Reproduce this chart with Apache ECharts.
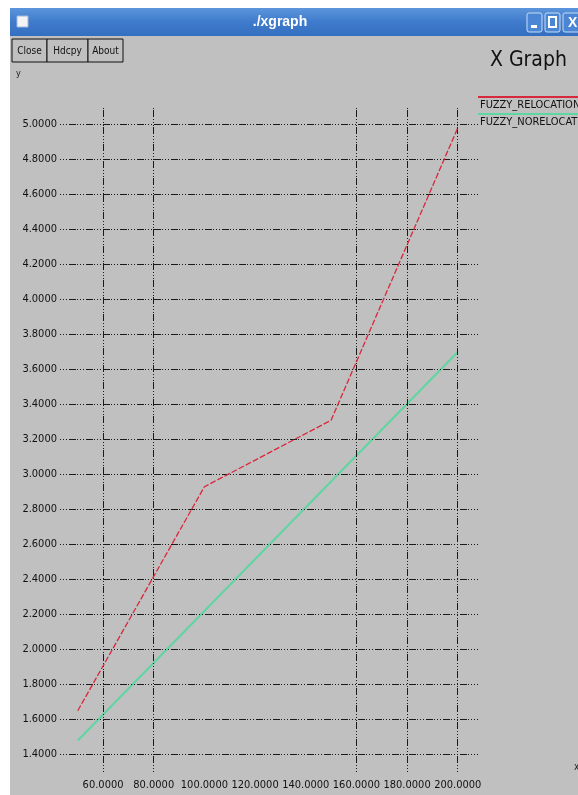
<!DOCTYPE html>
<html><head><meta charset="utf-8">
<script src="https://cdn.jsdelivr.net/npm/echarts@6/dist/echarts.min.js"></script>
<style>html,body{margin:0;padding:0;background:#fff;overflow:hidden}#c{width:578px;height:795px}</style>
</head><body><div id="c"></div>
<script>
// ---- data ----
const seriesNames = ['FUZZY_RELOCATION', 'FUZZY_NORELOCATION'];
const xRelocation = [50, 100, 150, 200];
const yRelocation = [1.65, 2.93, 3.31, 4.98];
const xNoRelocation = [50, 100, 150, 200];
const yNoRelocation = [1.48, 2.22, 2.96, 3.70];
const xTickLabels = [60, 80, 100, 120, 140, 160, 180, 200];
const yTickLabels = [1.4, 1.6, 1.8, 2.0, 2.2, 2.4, 2.6, 2.8, 3.0, 3.2, 3.4, 3.6, 3.8, 4.0, 4.2, 4.4, 4.6, 4.8, 5.0];
const xGridValues = [60, 80, 160, 180, 200];
const windowTitle = './xgraph';
const chartTitle = 'X Graph';
const buttonLabels = ['Close', 'Hdcpy', 'About'];
const yAxisName = 'y';

// ---- chart ----
const FONT = '"DejaVu Sans Condensed", "Liberation Sans", sans-serif';
const chart = echarts.init(document.getElementById('c'), null, {renderer: 'canvas'});
const gridStyle = {color: '#1a1a1a', width: 1, type: [1, 2, 1, 2, 1, 2, 7, 1]};
const pairs = (xs, ys) => xs.map((x, i) => [x, ys[i]]);

const buttonX = [12, 47, 88];
const buttonW = [35, 41, 35];
const graphics = [
  {type: 'rect', z: -10, shape: {x: 10, y: 8, width: 568, height: 787}, style: {fill: '#c0c0c0'}},
  {type: 'rect', z: -9, shape: {x: 10, y: 8, width: 568, height: 28},
    style: {fill: new echarts.graphic.LinearGradient(0, 0, 0, 1, [
      {offset: 0, color: '#5c95dc'}, {offset: 0.5, color: '#3f7bcc'}, {offset: 1, color: '#346ec0'}])}},
  {type: 'rect', z: -8, shape: {x: 17, y: 16, width: 11, height: 11}, style: {fill: '#f4f4f4', stroke: '#9fb8dc'}},
  {type: 'text', z: -8, style: {x: 280, y: 22, text: windowTitle, fill: '#ffffff', font: 'bold 14px "Liberation Sans", sans-serif', align: 'center', verticalAlign: 'middle'}},
  {type: 'rect', z: -8, shape: {x: 527, y: 13, width: 15, height: 19, r: 2}, style: {fill: '#4a86d4', stroke: '#c8dcf4'}},
  {type: 'rect', z: -7, shape: {x: 531, y: 25, width: 6, height: 3}, style: {fill: '#fff'}},
  {type: 'rect', z: -8, shape: {x: 545, y: 13, width: 15, height: 19, r: 2}, style: {fill: '#4a86d4', stroke: '#c8dcf4'}},
  {type: 'rect', z: -7, shape: {x: 549, y: 17, width: 7, height: 10}, style: {fill: 'none', stroke: '#fff', lineWidth: 2}},
  {type: 'rect', z: -8, shape: {x: 563, y: 13, width: 20, height: 19, r: 2}, style: {fill: '#4a86d4', stroke: '#c8dcf4'}},
  {type: 'text', z: -7, style: {x: 568, y: 23, text: 'X', fill: '#fff', font: 'bold 14px "Liberation Sans", sans-serif', verticalAlign: 'middle'}},
  {type: 'text', z: -8, style: {x: 490, y: 61, text: chartTitle, fill: '#111', font: '21px ' + FONT, verticalAlign: 'middle'}},
  {type: 'text', z: -8, style: {x: 16, y: 74, text: yAxisName, fill: '#222', font: '9px ' + FONT, verticalAlign: 'middle'}},
  {type: 'text', z: -8, style: {x: 574, y: 767, text: 'x', fill: '#222', font: '10px ' + FONT, verticalAlign: 'middle'}}
];
buttonLabels.forEach((b, i) => {
  graphics.push({type: 'rect', z: -8, shape: {x: buttonX[i], y: 39, width: buttonW[i], height: 23}, style: {fill: '#c0c0c0', stroke: '#111', lineWidth: 1}});
  graphics.push({type: 'text', z: -7, style: {x: buttonX[i] + buttonW[i] / 2, y: 51, text: b, fill: '#111', font: '10px ' + FONT, align: 'center', verticalAlign: 'middle'}});
});
const legendColors = ['#d8283c', '#5ed6a2'];
seriesNames.forEach((n, i) => {
  const ly = 97 + i * 17;
  graphics.push({type: 'line', z: -7, shape: {x1: 478, y1: ly, x2: 578, y2: ly}, style: {stroke: legendColors[i], lineWidth: 2}});
  graphics.push({type: 'text', z: -7, style: {x: 480, y: ly + 8, text: n, fill: '#111', font: '11px ' + FONT, verticalAlign: 'middle'}});
});

chart.setOption({
  animation: false,
  backgroundColor: '#ffffff',
  graphic: graphics,
  grid: {left: 60, right: 100, top: 107, bottom: 23, containLabel: false},
  xAxis: {
    type: 'value', min: 43, max: 208,
    axisLine: {show: false}, axisTick: {show: false}, splitLine: {show: false},
    axisLabel: {customValues: xTickLabels, formatter: v => v.toFixed(4), color: '#111', fontFamily: FONT, fontSize: 11, margin: 8, hideOverlap: false}
  },
  yAxis: {
    type: 'value', min: 1.3, max: 5.1,
    axisLine: {show: false}, axisTick: {show: false}, splitLine: {show: false},
    axisLabel: {customValues: yTickLabels, formatter: v => v.toFixed(4), color: '#111', fontFamily: FONT, fontSize: 11, margin: 3}
  },
  series: [
    {
      name: 'grid', type: 'line', data: [], silent: true,
      markLine: {
        silent: true, symbol: ['none', 'none'], label: {show: false}, lineStyle: gridStyle,
        data: xGridValues.map(v => ({xAxis: v})).concat(yTickLabels.map(v => ({yAxis: v})))
      }
    },
    {
      name: seriesNames[0], type: 'line', data: pairs(xRelocation, yRelocation), showSymbol: false, z: 5,
      lineStyle: {color: legendColors[0], width: 1.3, type: [6, 2]}
    },
    {
      name: seriesNames[1], type: 'line', data: pairs(xNoRelocation, yNoRelocation), showSymbol: false, z: 4,
      lineStyle: {color: legendColors[1], width: 2, type: 'solid'}
    }
  ]
});
</script>
</body></html>
